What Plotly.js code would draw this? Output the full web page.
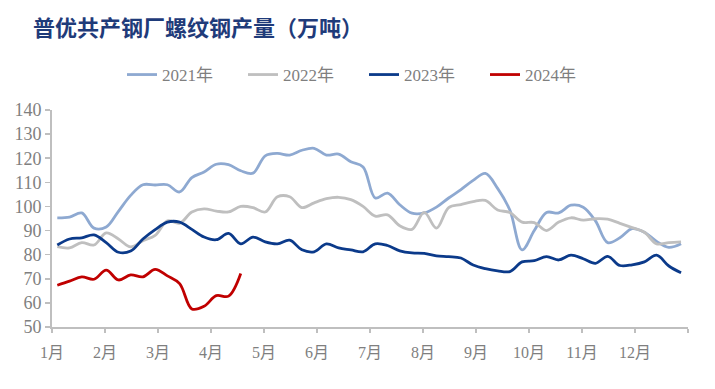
<!DOCTYPE html>
<html>
<head>
<meta charset="utf-8">
<script src="https://cdn.plot.ly/plotly-3.0.1.min.js"></script>
<style>
html,body{margin:0;padding:0;background:#fff;}
#chart{width:715px;height:389px;}
</style>
</head>
<body>
<div id="chart"></div>
<script>
// Month tick labels
const monthLabels = ['1月','2月','3月','4月','5月','6月','7月','8月','9月','10月','11月','12月'];
const seriesNames = ['2021年','2022年','2023年','2024年'];

// Weekly output (万吨)
const v2021 = [95.3,95.6,97.3,91.0,91.5,98.0,104.6,109.0,108.9,109.0,106.0,112.0,114.3,117.5,117.3,114.8,113.8,121.0,122.0,121.3,123.3,124.1,121.3,121.7,118.5,116.4,103.5,105.5,100.7,97.2,97.3,99.7,103.5,107.0,110.8,113.7,107.5,98.5,82.0,90.0,97.5,97.3,100.5,99.7,94.0,85.0,87.0,90.8,89.3,85.5,83.0,84.5];
const v2022 = [83.3,82.8,85.0,84.0,89.0,86.5,83.2,85.8,88.0,94.0,93.0,97.7,99.0,98.1,97.7,100.0,99.5,97.7,104.0,104.0,99.5,101.5,103.2,103.8,102.8,100.0,96.0,96.5,92.0,90.5,97.5,91.0,99.5,100.8,102.0,102.5,98.5,97.5,93.5,93.3,90.0,93.5,95.3,94.3,94.9,94.7,93.0,91.2,89.3,84.5,85.0,85.3];
const v2023 = [84.0,86.5,87.0,88.2,85.0,81.0,81.5,86.5,90.4,93.5,93.5,90.5,87.3,86.2,88.8,84.5,87.3,85.3,84.5,86.0,82.0,81.2,84.5,82.8,82.0,81.2,84.5,83.8,81.6,80.7,80.5,79.5,79.2,78.6,75.7,74.2,73.3,73.0,77.0,77.5,79.2,77.8,79.8,78.3,76.4,79.3,75.5,75.8,77.0,79.8,75.3,72.5];
const v2024 = [67.3,69.0,70.8,69.8,73.6,69.5,71.6,70.8,73.9,71.2,68.0,57.5,58.6,63.0,62.8,72.2];

const colors = ['#8EA9D1','#BFBFBF','#0B3A8A','#C00000'];
const allSeries = [v2021, v2022, v2023, v2024];

// week index -> position on a month axis (1 unit = 1 month)
const weekPos = arr => arr.map((_, i) => 0.1 + i * 12 / 52);

const traces = allSeries.map((vals, k) => ({
  type: 'scatter',
  mode: 'lines',
  name: seriesNames[k],
  x: weekPos(vals),
  y: vals,
  line: {color: colors[k], width: 2.8, shape: 'spline', smoothing: 1},
  hoverinfo: 'skip'
}));

const tickVals = monthLabels.map((_, i) => i).concat([12]);
const tickText = monthLabels.concat(['']);

const grayText = '#7F7F7F';
const layout = {
  width: 715,
  height: 389,
  paper_bgcolor: '#ffffff',
  plot_bgcolor: '#ffffff',
  margin: {l: 52, r: 27, t: 110, b: 62},
  font: {family: '"Liberation Serif", "Times New Roman", "Noto Sans CJK SC", serif', color: grayText, size: 16},
  title: {
    text: '<b>普优共产钢厂螺纹钢产量（万吨）</b>',
    font: {family: '"Noto Sans CJK SC", sans-serif', size: 22, color: '#1F3B7A'},
    xref: 'container', yref: 'container',
    x: 33 / 715, xanchor: 'left',
    y: 1 - 28 / 389, yanchor: 'middle'
  },
  showlegend: true,
  legend: {
    orientation: 'h',
    xref: 'container', yref: 'container',
    x: 122 / 715, xanchor: 'left',
    y: 1 - 75 / 389, yanchor: 'middle',
    font: {size: 17, color: grayText},
    entrywidth: 76,
    entrywidthmode: 'pixels',
    tracegroupgap: 0,
    bgcolor: 'rgba(0,0,0,0)'
  },
  xaxis: {
    range: [0, 12],
    tickmode: 'array',
    tickvals: tickVals,
    ticktext: tickText,
    showgrid: false,
    zeroline: false,
    showline: true,
    linecolor: '#BFBFBF',
    linewidth: 2,
    ticks: 'outside',
    ticklen: 4,
    tickwidth: 1.5,
    tickcolor: '#BFBFBF',
    ticklabelstandoff: 6,
    tickfont: {size: 16, color: grayText},
    fixedrange: true
  },
  yaxis: {
    range: [50, 140],
    tickmode: 'linear',
    tick0: 50,
    dtick: 10,
    showgrid: false,
    zeroline: false,
    showline: true,
    linecolor: '#BFBFBF',
    linewidth: 2,
    ticks: 'outside',
    ticklen: 5,
    tickwidth: 1.5,
    tickcolor: '#BFBFBF',
    tickfont: {size: 18, color: grayText},
    fixedrange: true
  }
};

Plotly.newPlot('chart', traces, layout, {displayModeBar: false, staticPlot: true});
</script>
</body>
</html>
